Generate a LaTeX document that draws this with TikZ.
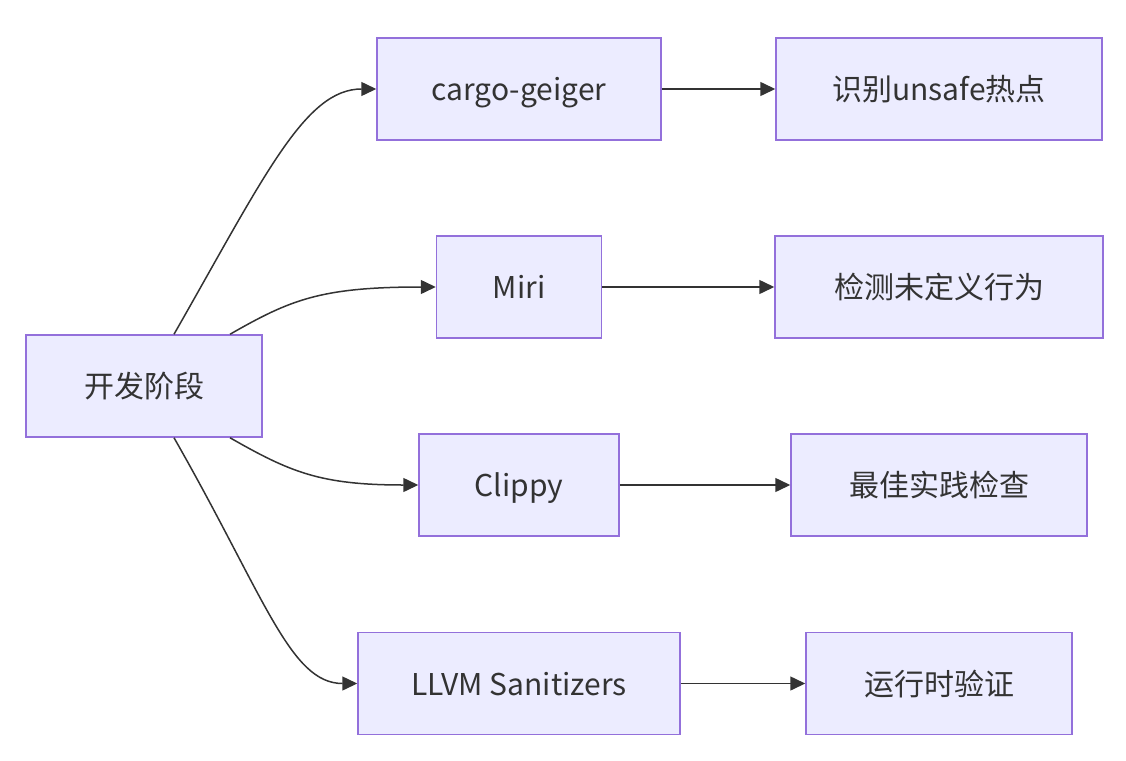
\documentclass[tikz,border=0pt]{standalone}
\usepackage{fontspec}
\setmainfont{Noto Sans CJK SC}
\usepackage{xcolor}
\usetikzlibrary{arrows.meta}
\definecolor{boxfill}{HTML}{ECECFF}
\definecolor{boxline}{HTML}{9370DB}
\definecolor{edgeline}{HTML}{333333}
\begin{document}
\begin{tikzpicture}[x=1pt, y=-1pt,
    stage/.style={draw=boxline, fill=boxfill, line width=1.5pt, inner sep=0pt, minimum height=102pt, text=edgeline, text height=27pt, text depth=4pt, font=\fontsize{30}{34}\selectfont},
    flow/.style={draw=edgeline, line width=1.5pt, -{Triangle[length=15pt, width=14pt]}}]
      \useasboundingbox (0, 0) rectangle (1126, 760);
      \node [stage, minimum width = 236pt] (dev) at (144, 386) {开发阶段};
      \node [stage, minimum width = 284pt] (geiger) at (519, 89) {cargo-geiger};
      \node [stage, minimum width = 165pt] (miri) at (519, 287) {Miri};
      \node [stage, minimum width = 200pt] (clippy) at (519, 485) {Clippy};
      \node [stage, minimum width = 322pt] (llvm) at (519, 683.5) {LLVM Sanitizers};
      \node [stage, minimum width = 326pt] (hotspot) at (939, 89) {识别unsafe热点};
      \node [stage, minimum width = 328pt] (ub) at (939, 287) {检测未定义行为};
      \node [stage, minimum width = 296pt] (lint) at (939, 485) {最佳实践检查};
      \node [stage, minimum width = 266pt] (runtime) at (939, 683.5) {运行时验证};
      \draw [flow] (dev.north) ++(30, 0) .. controls (265, 175) and (305, 89) .. (geiger.west);
      \draw [flow] (dev.north) ++(86, 0) .. controls (290, 300) and (320, 287) .. (miri.west);
      \draw [flow] (dev.south) ++(86, 0) .. controls (290, 472) and (320, 485) .. (clippy.west);
      \draw [flow] (dev.south) ++(30, 0) .. controls (265, 597) and (290, 683.5) .. (llvm.west);
      \draw [flow] (geiger) -- (hotspot);
      \draw [flow] (miri) -- (ub);
      \draw [flow] (clippy) -- (lint);
      \draw [flow] (llvm) -- (runtime);
    \end{tikzpicture}
\end{document}
